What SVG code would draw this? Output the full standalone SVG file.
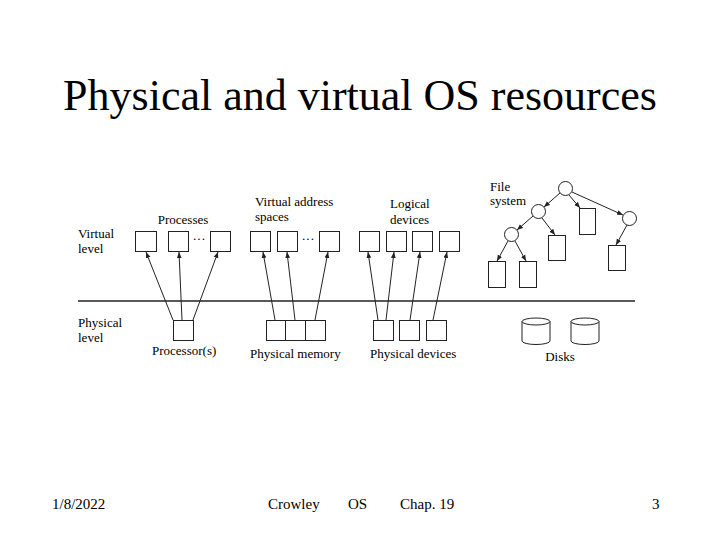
<svg xmlns="http://www.w3.org/2000/svg" width="720" height="540" viewBox="0 0 720 540" font-family="'Liberation Serif', 'Times New Roman', 'DejaVu Serif', serif">
<defs>
<style>
text{font-family:'Liberation Serif','Times New Roman','DejaVu Serif',serif;fill:#000}
.t{font-size:44px}
.f{font-size:15px}
.l{font-size:13px}
.b{fill:#fff;stroke:#222;stroke-width:1}
.c{fill:#fff;stroke:#222;stroke-width:1}
.a{fill:none;stroke:#222;stroke-width:1;marker-end:url(#ah)}
.ln{stroke:#222;stroke-width:1.5}
</style>
<marker id="ah" viewBox="0 0 10 10" refX="10" refY="5" markerWidth="6" markerHeight="6" orient="auto" markerUnits="userSpaceOnUse">
<path d="M0,1 L10,5 L0,9 z" fill="#222"/>
</marker>
</defs>
<rect width="720" height="540" fill="#fff"/>
<text class="t" x="360" y="110" text-anchor="middle">Physical and virtual OS resources</text>

<line class="ln" x1="78" y1="301" x2="635" y2="301"/>
<g id="labels">
<text class="l" x="78" y="238">Virtual</text>
<text class="l" x="78" y="253">level</text>
<text class="l" x="78" y="327">Physical</text>
<text class="l" x="78" y="342">level</text>
</g>

<g id="processes">
<text class="l" x="183" y="224" text-anchor="middle">Processes</text>
<rect class="b" x="135.5" y="231.5" width="21" height="20"/>
<rect class="b" x="168.5" y="231.5" width="20" height="20"/>
<text class="l" x="199" y="243" text-anchor="middle">···</text>
<rect class="b" x="210.5" y="231.5" width="20" height="20"/>
</g>
<g id="processor">
<rect class="b" x="173.5" y="320.5" width="20" height="20"/>
<text class="l" x="152" y="355">Processor(s)</text>
</g>

<g id="vas">
<text class="l" x="255" y="206">Virtual address</text>
<text class="l" x="255" y="221">spaces</text>
<rect class="b" x="250.5" y="231.5" width="20" height="20"/>
<rect class="b" x="277.5" y="231.5" width="20" height="20"/>
<text class="l" x="308" y="243" text-anchor="middle">···</text>
<rect class="b" x="319.5" y="231.5" width="20" height="20"/>
</g>
<g id="physmem">
<rect class="b" x="266.5" y="320.5" width="19" height="20"/>
<rect class="b" x="285.5" y="320.5" width="20" height="20"/>
<rect class="b" x="305.5" y="320.5" width="20" height="20"/>
<text class="l" x="250" y="358">Physical memory</text>
</g>

<g id="logical">
<text class="l" x="390" y="208">Logical</text>
<text class="l" x="390" y="224">devices</text>
<rect class="b" x="359.5" y="231.5" width="20" height="20"/>
<rect class="b" x="386.5" y="231.5" width="20" height="20"/>
<rect class="b" x="412.5" y="231.5" width="20" height="20"/>
<rect class="b" x="439.5" y="231.5" width="20" height="20"/>
</g>
<g id="physdev">
<rect class="b" x="373.5" y="320.5" width="20" height="20"/>
<rect class="b" x="399.5" y="320.5" width="20" height="20"/>
<rect class="b" x="426.5" y="320.5" width="20" height="20"/>
<text class="l" x="370" y="358">Physical devices</text>
</g>

<g id="filesystem">
<text class="l" x="490" y="191">File</text>
<text class="l" x="490" y="205">system</text>
<circle class="c" cx="565.5" cy="188.5" r="7"/>
<circle class="c" cx="538.5" cy="211.5" r="7"/>
<circle class="c" cx="629.5" cy="218.5" r="7"/>
<circle class="c" cx="511.5" cy="234.5" r="7"/>
<rect class="b" x="579.5" y="208.5" width="16" height="26"/>
<rect class="b" x="548.5" y="235.5" width="17" height="25"/>
<rect class="b" x="608.5" y="245.5" width="17" height="25"/>
<rect class="b" x="488.5" y="261.5" width="17" height="26"/>
<rect class="b" x="519.5" y="261.5" width="17" height="26"/>
</g>

<g id="disks">
<path class="b" d="M522,321.5 A14,3.5 0 0 1 550,321.5 L550,341 A14,3.5 0 0 1 522,341 Z M522,321.5 A14,3.5 0 0 0 550,321.5"/>
<path class="b" d="M571,321.5 A14,3.5 0 0 1 599,321.5 L599,341 A14,3.5 0 0 1 571,341 Z M571,321.5 A14,3.5 0 0 0 599,321.5"/>
<text class="l" x="560" y="361" text-anchor="middle">Disks</text>
</g>

<g id="connectors">
<line class="a" x1="173" y1="320" x2="146" y2="252"/>
<line class="a" x1="182" y1="320" x2="179" y2="252"/>
<line class="a" x1="193" y1="320" x2="218" y2="252"/>
<line class="a" x1="275" y1="320" x2="263" y2="252"/>
<line class="a" x1="295" y1="320" x2="287" y2="252"/>
<line class="a" x1="315" y1="320" x2="328" y2="252"/>
<line class="a" x1="378" y1="320" x2="368" y2="252"/>
<line class="a" x1="386" y1="320" x2="394" y2="252"/>
<line class="a" x1="410" y1="320" x2="420" y2="252"/>
<line class="a" x1="433" y1="320" x2="447" y2="252"/>
<line class="a" x1="560" y1="193" x2="544" y2="207"/>
<line class="a" x1="569" y1="195" x2="580" y2="208"/>
<line class="a" x1="572" y1="192" x2="623" y2="215"/>
<line class="a" x1="533" y1="216" x2="517" y2="230"/>
<line class="a" x1="542" y1="218" x2="555" y2="235"/>
<line class="a" x1="508" y1="241" x2="497" y2="261"/>
<line class="a" x1="515" y1="241" x2="526" y2="261"/>
<line class="a" x1="627" y1="225" x2="616" y2="245"/>
</g>

<g id="footer">
<text class="f" x="52" y="509">1/8/2022</text>
<text class="f" x="268" y="509">Crowley</text>
<text class="f" x="348" y="509">OS</text>
<text class="f" x="400" y="509">Chap. 19</text>
<text class="f" x="652" y="509">3</text>
</g>
</svg>
